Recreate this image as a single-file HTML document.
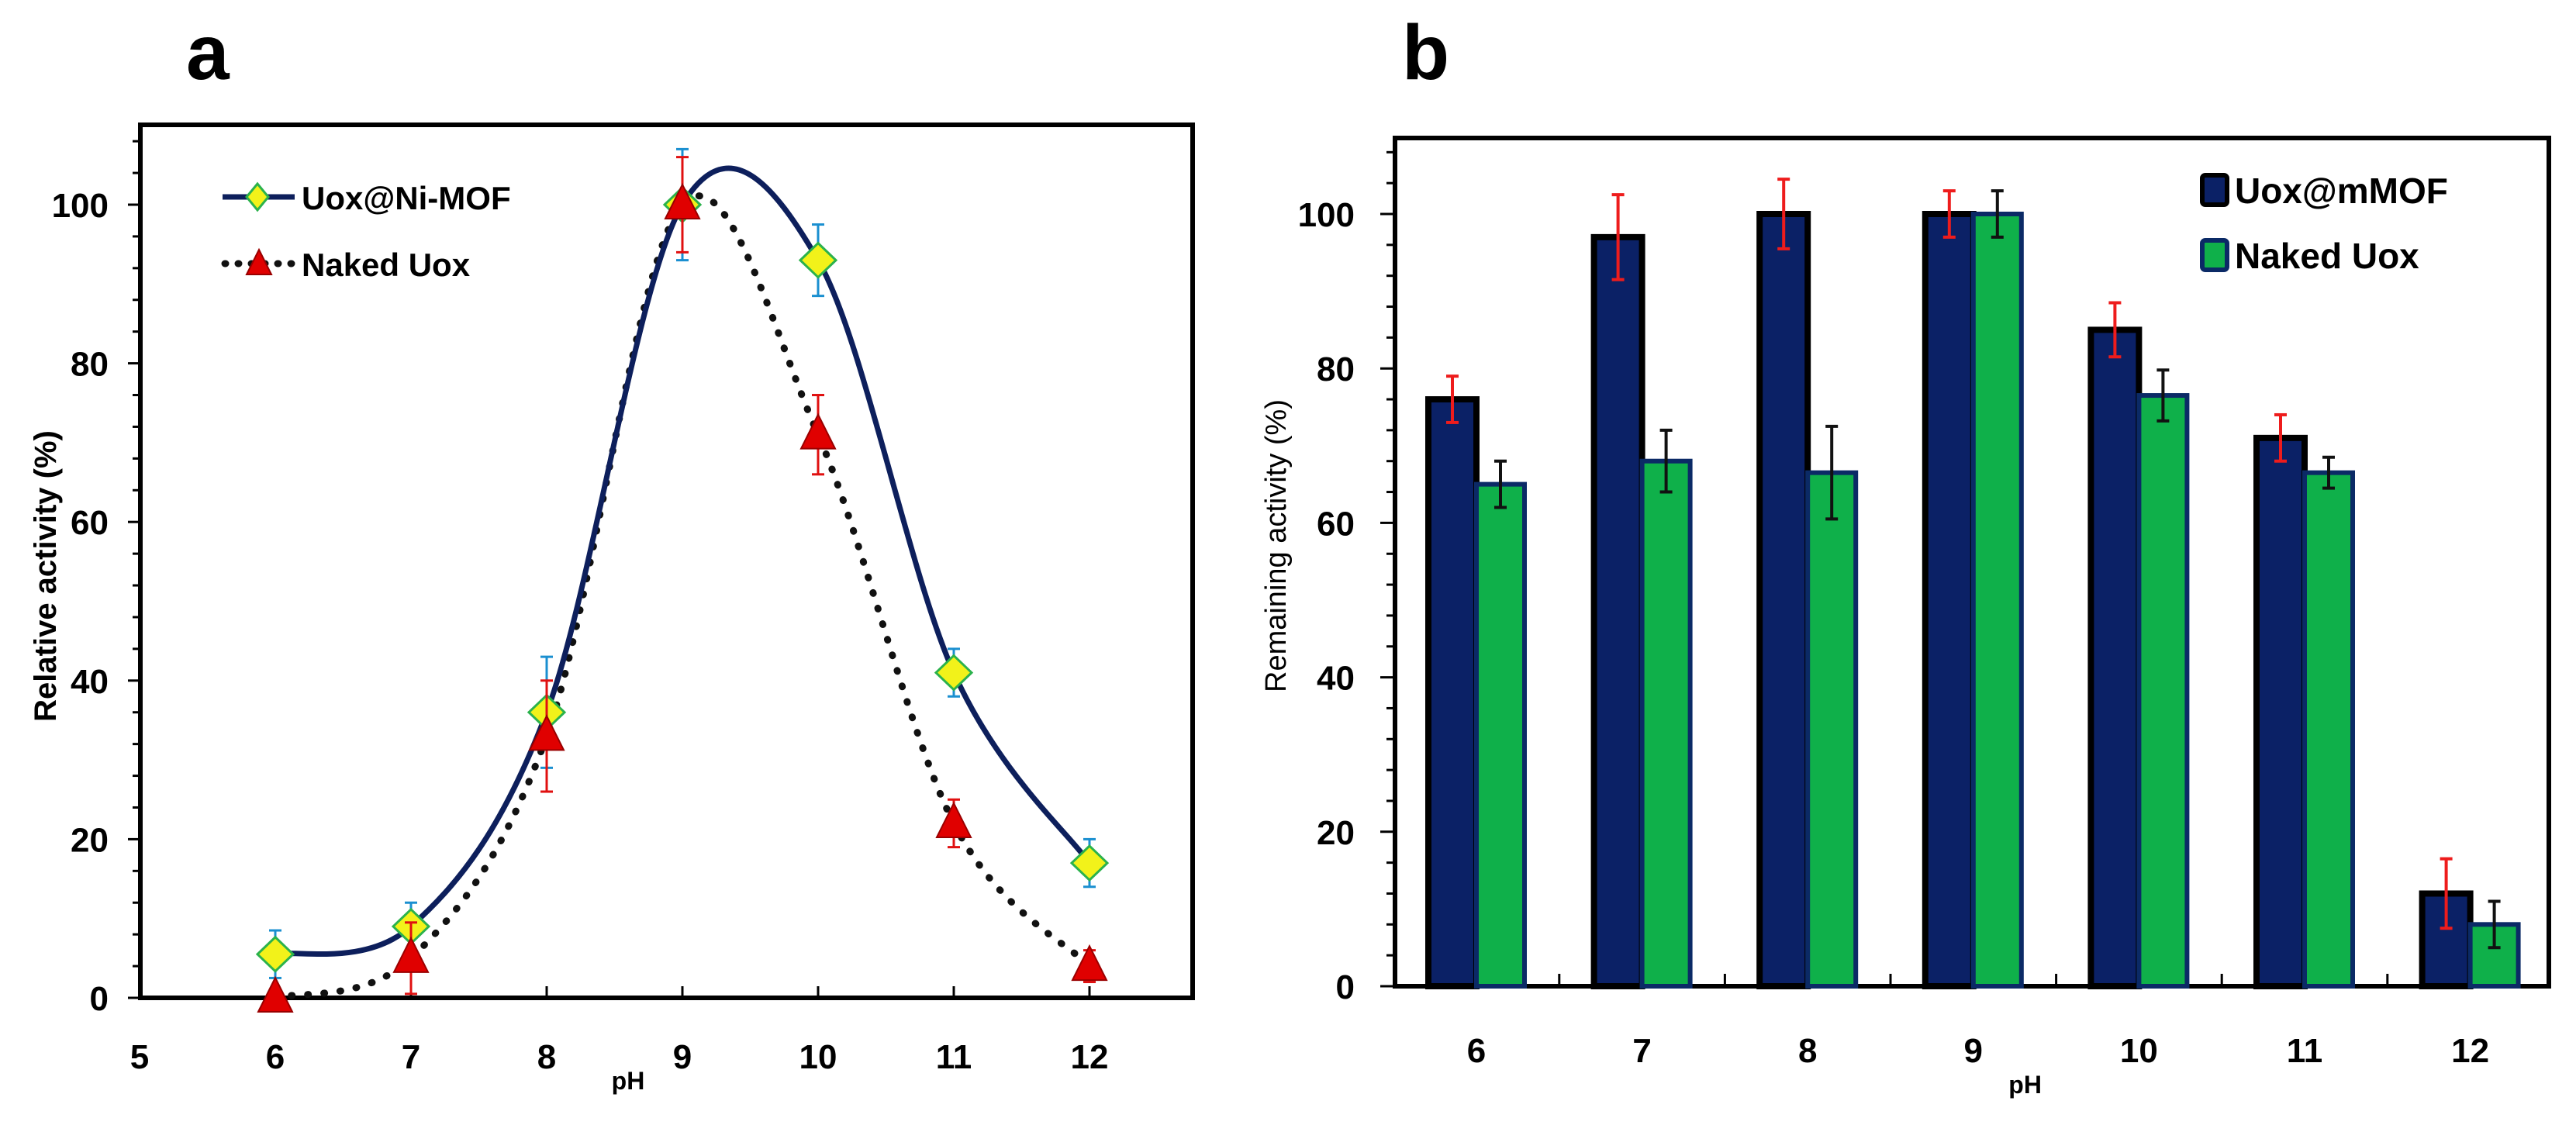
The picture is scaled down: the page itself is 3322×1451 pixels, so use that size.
<!DOCTYPE html>
<html><head><meta charset="utf-8"><style>
html,body{margin:0;padding:0;background:#fff;}
svg{display:block;font-family:"Liberation Sans",sans-serif;}
</style></head><body>
<svg id="c" width="3322" height="1451" viewBox="0 0 3322 1451"></svg>
<script>
// Panel a data
const phA = [6,7,8,9,10,11,12];
const mofA = [5.5,9,36,100,93,41,17];
const mofErrA = [3,3,7,7,4.5,3,3];
const nakedA = [0,5,33,100,71,22,4];
const nakedErrA = [0,4.5,7,6,5,3,2];
const xTicksA = [5,6,7,8,9,10,11,12];
const yTicksA = [0,20,40,60,80,100];
// Panel b data
const phB = ['6','7','8','9','10','11','12'];
const mofB = [76,97,100,100,85,71,12];
const mofErrB = [3,5.5,4.5,3,3.5,3,4.5];
const nakedB = [65,68,66.5,100,76.5,66.5,8];
const nakedErrB = [3,4,6,3,3.3,2,3];
const yTicksB = [0,20,40,60,80,100];

const NS='http://www.w3.org/2000/svg';
const svg=document.getElementById('c');
function el(tag,attrs,parent){const e=document.createElementNS(NS,tag);for(const k in attrs)e.setAttribute(k,attrs[k]);(parent||svg).appendChild(e);return e;}
function txt(s,attrs,parent){const e=el('text',attrs,parent);e.textContent=s;return e;}

// ---------- Panel a ----------
const gA=el('g',{});


const xA=v=>180+(v-5)*175;
const yA=v=>1287-v*10.23;
const pl=txt('a',{x:240,y:102,'font-size':100,'font-weight':'bold'},gA);


const boxA=el('rect',{x:181,y:161,width:1357,height:1126,fill:'none',stroke:'#000','stroke-width':6},gA);


for(let v=0;v<=108;v+=4){const t=el('line',{x1:181,x2:v%20===0?165:171,y1:yA(v),y2:yA(v),stroke:'#000','stroke-width':3},gA);

}
yTicksA.forEach(v=>{const t=txt(String(v),{x:140,y:yA(v)+16,'font-size':44,'font-weight':'bold','text-anchor':'end'},gA);

});
xTicksA.forEach(v=>{const t=txt(String(v),{x:xA(v),y:1378,'font-size':44,'font-weight':'bold','text-anchor':'middle'},gA);


const tk=el('line',{x1:xA(v),x2:xA(v),y1:1287,y2:1272,stroke:'#000','stroke-width':3},gA);

});
const xtA=txt('pH',{x:xA(8.6),y:1405,'font-size':32,'font-weight':'bold','text-anchor':'middle'},gA);


const ytA=txt('Relative activity (%)',{x:0,y:0,'font-size':40,'font-weight':'bold','text-anchor':'middle',transform:'translate(72,743) rotate(-90)'},gA);



function spline(xs,ys,fx,fy){
  const P=xs.map((x,i)=>[fx(x),fy(ys[i])]);
  let d='M'+P[0][0]+','+P[0][1];
  for(let i=0;i<P.length-1;i++){
    const p0=P[Math.max(0,i-1)],p1=P[i],p2=P[i+1],p3=P[Math.min(P.length-1,i+2)];
    const c1=[p1[0]+(p2[0]-p0[0])/6,p1[1]+(p2[1]-p0[1])/6];
    const c2=[p2[0]-(p3[0]-p1[0])/6,p2[1]-(p3[1]-p1[1])/6];
    d+=` C${c1[0]},${c1[1]} ${c2[0]},${c2[1]} ${p2[0]},${p2[1]}`;
  }
  return d;
}
const lineN=el('path',{d:spline(phA,nakedA,xA,yA),fill:'none',stroke:'#111','stroke-width':9,'stroke-linecap':'round','stroke-dasharray':'1 20'},gA);


const lineM=el('path',{d:spline(phA,mofA,xA,yA),fill:'none',stroke:'#0d1f5c','stroke-width':7},gA);



function errbar(x,y1,y2,color,w,parent,name){
  const g=el('g',{stroke:color,'stroke-width':w},parent);
  
  
  el('line',{x1:x,x2:x,y1:y1,y2:y2},g);
  el('line',{x1:x-8,x2:x+8,y1:y1,y2:y1},g);
  el('line',{x1:x-8,x2:x+8,y1:y2,y2:y2},g);
}
phA.forEach((p,i)=>{
  errbar(xA(p),yA(mofA[i]+mofErrA[i]),yA(mofA[i]-mofErrA[i]),'#1a8fd0',3,gA,'error-bar-mof-a');
  const x=xA(p),y=yA(mofA[i]);
  const d=el('polygon',{points:`${x-23},${y} ${x},${y-22} ${x+23},${y} ${x},${y+22}`,fill:'#f2f21a',stroke:'#2bb24c','stroke-width':3},gA);
  
  
});
phA.forEach((p,i)=>{
  if(nakedErrA[i]>0) errbar(xA(p),yA(nakedA[i]+nakedErrA[i]),yA(nakedA[i]-nakedErrA[i]),'#e01010',3,gA,'error-bar-naked-a');
  const x=xA(p),y=yA(nakedA[i]);
  const t=el('polygon',{points:`${x-22},${y+18} ${x},${y-26} ${x+22},${y+18}`,fill:'#e00000',stroke:'#900','stroke-width':2},gA);
  
  
});
// legend a
const lgA=el('g',{},gA);


el('line',{x1:287,x2:380,y1:254,y2:254,stroke:'#0d1f5c','stroke-width':7},lgA);
el('polygon',{points:'318,254 332,237 346,254 332,271',fill:'#f2f21a',stroke:'#2bb24c','stroke-width':3},lgA);
txt('Uox@Ni-MOF',{x:389,y:270,'font-size':42,'font-weight':'bold'},lgA);
el('line',{x1:290,x2:380,y1:340,y2:340,stroke:'#111','stroke-width':9,'stroke-linecap':'round','stroke-dasharray':'1 16'},lgA);
el('polygon',{points:'318,354 334,322 350,354',fill:'#e00000',stroke:'#900','stroke-width':2},lgA);
txt('Naked Uox',{x:389,y:356,'font-size':42,'font-weight':'bold'},lgA);

// ---------- Panel b ----------
const gB=el('g',{});


const yB=v=>1272-v*9.96;
const stepB=213.6, firstB=1904;
const xB=i=>firstB+i*stepB;
const plb=txt('b',{x:1808,y:102,'font-size':100,'font-weight':'bold'},gB);


const boxB=el('rect',{x:1799,y:178,width:1488,height:1094,fill:'none',stroke:'#000','stroke-width':6},gB);


for(let v=0;v<=108;v+=4){const t=el('line',{x1:1799,x2:v%20===0?1780:1788,y1:yB(v),y2:yB(v),stroke:'#000','stroke-width':3},gB);

}
yTicksB.forEach(v=>{const t=txt(String(v),{x:1747,y:yB(v)+16,'font-size':44,'font-weight':'bold','text-anchor':'end'},gB);

});
const ytB=txt('Remaining activity (%)',{x:0,y:0,'font-size':38,'text-anchor':'middle',transform:'translate(1658,704) rotate(-90)'},gB);


phB.forEach((p,i)=>{
  const t=txt(p,{x:xB(i),y:1370,'font-size':44,'font-weight':'bold','text-anchor':'middle'},gB);
  
  
  if(i<phB.length-1){const tk=el('line',{x1:xB(i)+stepB/2,x2:xB(i)+stepB/2,y1:1272,y2:1256,stroke:'#000','stroke-width':3},gB);
  
  }
});
const xtB=txt('pH',{x:(xB(3)+xB(4))/2-40,y:1410,'font-size':32,'font-weight':'bold','text-anchor':'middle'},gB);


const bw=62;
phB.forEach((p,i)=>{
  const cx=xB(i);
  const b1=el('rect',{x:cx-bw,y:yB(mofB[i]),width:bw,height:yB(0)-yB(mofB[i]),fill:'#0b2166',stroke:'#000','stroke-width':8},gB);
  
  
  const b2=el('rect',{x:cx,y:yB(nakedB[i]),width:bw,height:yB(0)-yB(nakedB[i]),fill:'#0fb04a',stroke:'#0b2a66','stroke-width':6},gB);
  
  
});
phB.forEach((p,i)=>{
  const cx=xB(i);
  errbar(cx-bw/2,yB(mofB[i]+mofErrB[i]),yB(mofB[i]-mofErrB[i]),'#ee1c1c',4,gB,'error-bar-mof-b');
  errbar(cx+bw/2,yB(nakedB[i]+nakedErrB[i]),yB(nakedB[i]-nakedErrB[i]),'#111',4,gB,'error-bar-naked-b');
});
const lgB=el('g',{},gB);


el('rect',{x:2840,y:226,width:32,height:38,rx:4,fill:'#0b2166',stroke:'#000','stroke-width':6},lgB);
txt('Uox@mMOF',{x:2882,y:262,'font-size':46,'font-weight':'bold'},lgB);
el('rect',{x:2840,y:310,width:32,height:38,rx:4,fill:'#0fb04a',stroke:'#0b2a66','stroke-width':6},lgB);
txt('Naked Uox',{x:2882,y:346,'font-size':46,'font-weight':'bold'},lgB);
</script>
</body></html>
